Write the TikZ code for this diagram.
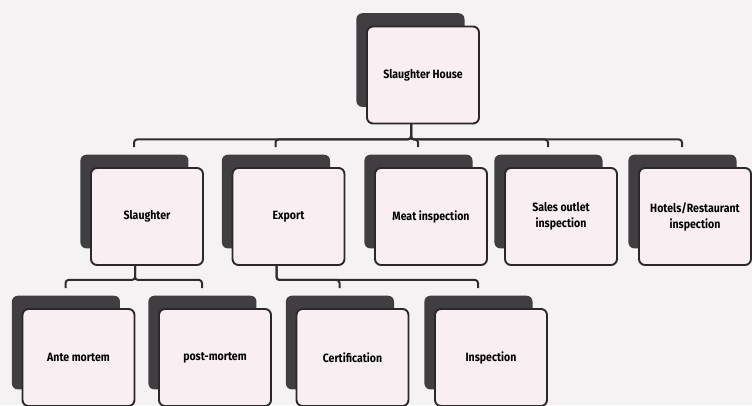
\documentclass[tikz,border=0pt]{standalone}
\usepackage{fontspec}
\setsansfont{Fira Sans}[FakeStretch=0.88]
\usepackage{tikz}
\usetikzlibrary{shadows, calc}
\definecolor{paper}{HTML}{F4F2F3}
\definecolor{cardpink}{HTML}{F9EEF2}
\definecolor{cardedge}{HTML}{2A282A}
\definecolor{backcard}{HTML}{403E40}
\definecolor{linkgray}{HTML}{2E2C2E}

\begin{document}
\begin{tikzpicture}[
    x=1pt, y=-1pt,
    card/.style={draw=cardedge, line width=1.9pt, rounded corners=6pt, fill=cardpink, minimum width=112pt, minimum height=97pt, align=center, inner sep=2pt, font=\sffamily\bfseries\fontsize{12}{16}\selectfont, general shadow={fill=backcard, shadow scale=0.965, shadow xshift=-13pt, shadow yshift=15.5pt}},
    link/.style={draw=linkgray, line width=2pt, rounded corners=3pt},
]
    % Page
    \path[use as bounding box, fill=paper] (0,0) rectangle (752,405);

    % Top
    \node[card] (house) at (423,75) {Slaughter House};

    % Second row
    \node[card] (slaughter) at (147,216.5) {Slaughter};
    \node[card] (export) at (288.5,216.5) {Export};
    \node[card] (meat) at (431,216.5) {Meat inspection};
    \node[card] (sales) at (561,216.5) {Sales outlet\\inspection};
    \node[card] (hotels) at (695,216.5) {Hotels/Restaurant\\inspection};

    % Third row
    \node[card] (ante) at (78.5,357.5) {Ante mortem};
    \node[card] (post) at (215,357.5) {post-mortem};
    \node[card] (cert) at (352.5,357.5) {Certification};
    \node[card] (insp) at (491,357.5) {Inspection};

    % Connectors
    \foreach \kid in {slaughter,export,meat,sales,hotels}
        \draw[link] ([xshift=-12pt]house.south) -- ++(0,15) -| ([shift={(-13,-20)}]\kid.north);
    \foreach \kid in {ante,post}
        \draw[link] ([xshift=-12pt]slaughter.south) -- ++(0,14) -| ([shift={(-13,-20)}]\kid.north);
    \foreach \kid in {cert,insp}
        \draw[link] ([xshift=-12pt]export.south) -- ++(0,14) -| ([shift={(-13,-20)}]\kid.north);

\end{tikzpicture}
\end{document}
